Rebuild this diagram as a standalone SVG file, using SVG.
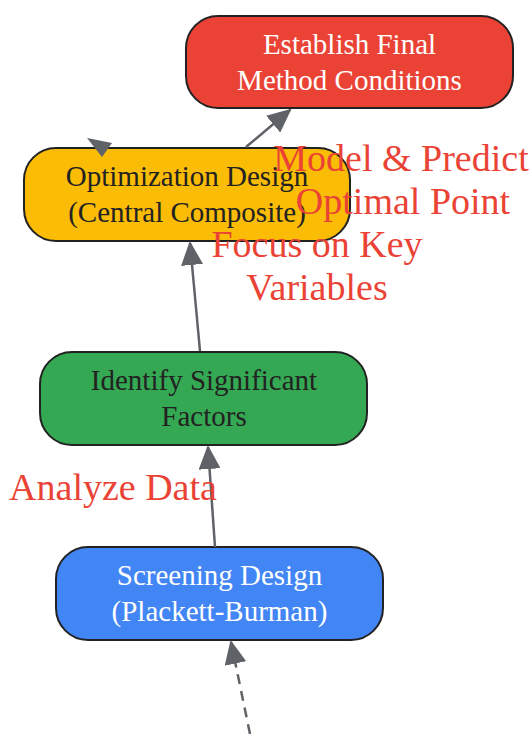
<svg xmlns="http://www.w3.org/2000/svg" width="532" height="734" viewBox="0 0 532 734">
<style>
.box{stroke:#222;stroke-width:2}
.t{font-family:"Liberation Serif",serif;font-size:29px;text-anchor:middle}
.lbl{font-family:"Liberation Serif",serif;font-size:38px;text-anchor:middle;fill:#EA4335}
.e{stroke:#5F6368;stroke-width:2.5;fill:none}
</style>
<defs>
<marker id="ahb" markerWidth="24" markerHeight="22" refX="22" refY="11" orient="auto" markerUnits="userSpaceOnUse" viewBox="0 0 24 22">
<path d="M0,0 L24,11 L0,22 z" fill="#5F6368"/>
</marker>
</defs>
<rect width="532" height="734" fill="#fff"/>
<g id="n_final">
<rect class="box" x="186" y="16" width="327" height="92" rx="32" fill="#EA4335"/>
<text class="t" x="349.5" y="54" fill="#fff">Establish Final</text>
<text class="t" x="349.5" y="90" fill="#fff">Method Conditions</text>
</g>
<g id="n_opt">
<rect class="box" x="24" y="148" width="326" height="93" rx="32" fill="#FBBC05"/>
<text class="t" x="187" y="186" fill="#222">Optimization Design</text>
<text class="t" x="187" y="222" fill="#222">(Central Composite)</text>
</g>
<g id="n_sig">
<rect class="box" x="40" y="352" width="327" height="93" rx="32" fill="#34A853"/>
<text class="t" x="204" y="390" fill="#222">Identify Significant</text>
<text class="t" x="204" y="426" fill="#222">Factors</text>
</g>
<g id="n_screen">
<rect class="box" x="56" y="547" width="327" height="93" rx="32" fill="#4285F4"/>
<text class="t" x="219.5" y="585" fill="#fff">Screening Design</text>
<text class="t" x="219.5" y="621" fill="#fff">(Plackett-Burman)</text>
</g>
<g id="edges">
<line class="e" x1="250" y1="734" x2="231" y2="642" stroke-dasharray="10,7" marker-end="url(#ahb)"/>
<line class="e" x1="215" y1="547" x2="208" y2="447" marker-end="url(#ahb)"/>
<line class="e" x1="200" y1="351" x2="190" y2="243" marker-end="url(#ahb)"/>
<line class="e" x1="246" y1="147" x2="290" y2="110" marker-end="url(#ahb)"/>
<path d="M87,138 L112,143 L102,157 z" fill="#5F6368"/>
</g>
<g id="labels">
<text class="lbl" x="401" y="171">Model &amp; Predict</text>
<text class="lbl" x="403" y="214">Optimal Point</text>
<text class="lbl" x="317" y="257">Focus on Key</text>
<text class="lbl" x="317" y="300">Variables</text>
<text class="lbl" x="113" y="500">Analyze Data</text>
</g>
</svg>
